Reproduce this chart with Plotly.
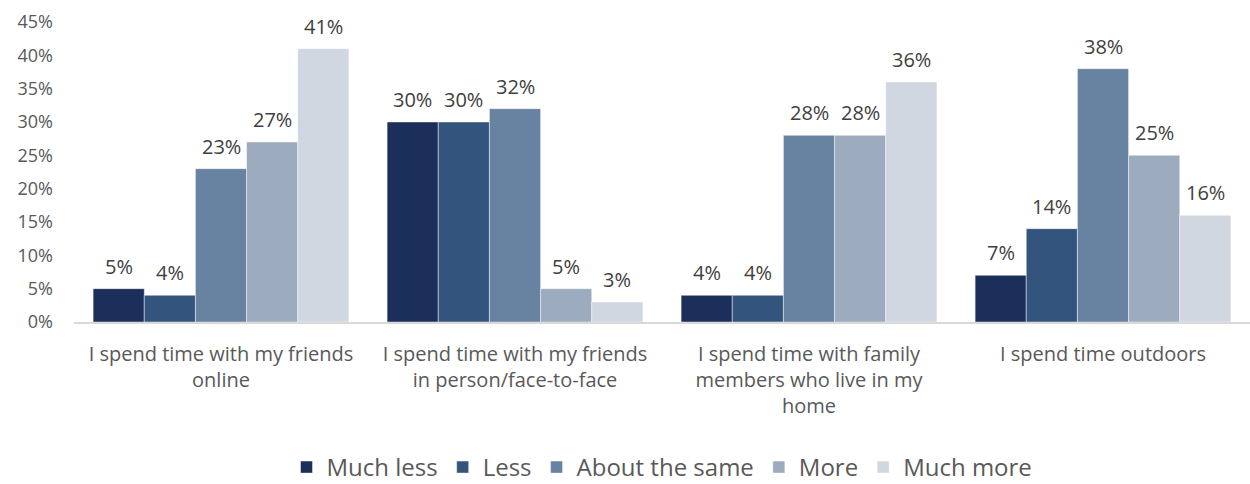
import plotly.graph_objects as go

categories = [
    "I spend time with my friends<br>online",
    "I spend time with my friends<br>in person/face-to-face",
    "I spend time with family<br>members who live in my<br>home",
    "I spend time outdoors",
]
series_names = ["Much less", "Less", "About the same", "More", "Much more"]
much_less = [5, 30, 4, 7]
less = [4, 30, 4, 14]
about_same = [23, 32, 28, 38]
more = [27, 5, 28, 25]
much_more = [41, 3, 36, 16]
series_values = [much_less, less, about_same, more, much_more]
colors = ["#1c2f5a", "#33557d", "#6883a1", "#9dabbe", "#d0d7e0"]
y_ticks = [0, 5, 10, 15, 20, 25, 30, 35, 40, 45]
y_tick_text = [f"{v}%" for v in y_ticks]

FONT = "Open Sans"
BARGAP = 0.13
n_series = len(series_names)
bar_w = (1 - BARGAP) / n_series

fig = go.Figure()
for name, vals, col in zip(series_names, series_values, colors):
    fig.add_trace(go.Bar(
        name=name, x=categories, y=vals,
        marker=dict(color=col, line=dict(color="rgba(255,255,255,0.55)", width=0.8)),
        hoverinfo="skip",
    ))

# value labels above each bar, placed at the grouped-bar offsets
annotations = []
for j, vals in enumerate(series_values):
    for i, v in enumerate(vals):
        annotations.append(dict(
            x=i + (j - (n_series - 1) / 2) * bar_w, y=v, xref="x", yref="y",
            text=f"{v}%", showarrow=False, yanchor="bottom", yshift=7,
            font=dict(family=FONT, size=20, color="#404040"),
        ))

fig.update_layout(
    width=1250, height=484,
    margin=dict(l=74, r=0, t=22, b=162, autoexpand=False),
    paper_bgcolor="white", plot_bgcolor="white",
    barmode="group", bargap=BARGAP, bargroupgap=0,
    font=dict(family=FONT, color="#595959"),
    showlegend=True,
    legend=dict(
        orientation="h", x=0.5, xanchor="center", y=-0.485, yanchor="middle",
        font=dict(family=FONT, size=24, color="#595959"),
        traceorder="normal",
    ),
    annotations=annotations,
    xaxis=dict(
        type="category", showgrid=False, showline=True, linecolor="#d9d9d9", linewidth=1.5,
        ticks="", ticklabelstandoff=13, automargin=False,
        tickfont=dict(family=FONT, size=20, color="#595959"),
        range=[-0.5, 3.5],
    ),
    yaxis=dict(
        range=[0, 45], tickmode="array", tickvals=y_ticks, ticktext=y_tick_text,
        showgrid=False, zeroline=False, showline=False, ticks="",
        ticklabelstandoff=20, automargin=False,
        tickfont=dict(family=FONT, size=18, color="#595959"),
    ),
)

fig.write_html("out.html")
